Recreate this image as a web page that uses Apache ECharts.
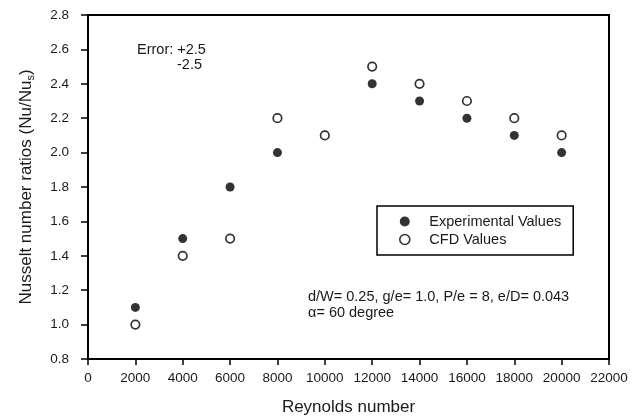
<!DOCTYPE html>
<html><head><meta charset="utf-8">
<script src="https://cdn.jsdelivr.net/npm/echarts@6/dist/echarts.min.js"></script>
<style>html,body{margin:0;padding:0;background:#fff}#c{width:638px;height:417px}</style>
</head><body><div id="c"></div>
<script>
const reynolds = [2000, 4000, 6000, 8000, 10000, 12000, 14000, 16000, 18000, 20000];
const experimental = [1.1, 1.5, 1.8, 2.0, null, 2.4, 2.3, 2.2, 2.1, 2.0];
const cfd = [1.0, 1.4, 1.5, 2.2, 2.1, 2.5, 2.4, 2.3, 2.2, 2.1];

const F = 'Liberation Sans, Arial, sans-serif';
const TXT = '#1a1a1a';
const chart = echarts.init(document.getElementById('c'));
const pair = (xs, ys) => xs.map((x, i) => [x, ys[i]]).filter(p => p[1] != null);
chart.setOption({
  animation: false,
  grid: {left: 88, top: 15, right: 29, bottom: 58, show: true, borderColor: '#000', borderWidth: 2,
         containLabel: false, outerBoundsMode: 'none'},
  xAxis: {
    type: 'value', min: 0, max: 22000, interval: 2000,
    name: 'Reynolds number', nameLocation: 'middle', nameGap: 40,
    nameTextStyle: {fontFamily: F, fontSize: 17, color: TXT},
    axisLine: {lineStyle: {color: '#000', width: 2}},
    axisTick: {show: true, inside: false, length: 6, lineStyle: {color: '#000', width: 1.5}},
    axisLabel: {fontFamily: F, fontSize: 13.5, color: TXT, margin: 12, formatter: v => String(v)},
    splitLine: {show: false}
  },
  yAxis: {
    type: 'value', min: 0.8, max: 2.8, interval: 0.2,
    name: '{n|Nusselt number ratios (Nu/Nu}{s|s}{n|)}', nameLocation: 'middle', nameGap: 52,
    nameTextStyle: {fontFamily: F, fontSize: 17, color: TXT,
      rich: {n: {fontFamily: F, fontSize: 17, color: TXT}, s: {fontFamily: F, fontSize: 11, color: TXT, verticalAlign: 'bottom', padding: [8, 0, 0, 0]}}},
    axisLine: {lineStyle: {color: '#000', width: 2}},
    axisTick: {show: true, inside: false, length: 7, lineStyle: {color: '#000', width: 1.5}},
    axisLabel: {fontFamily: F, fontSize: 13.5, color: TXT, margin: 19, formatter: v => v.toFixed(1)},
    splitLine: {show: false}
  },
  legend: {
    show: true, orient: 'vertical', left: 377, top: 206,
    padding: [8, 12, 8, 22], itemGap: 3, itemWidth: 11, itemHeight: 10,
    borderColor: '#000', borderWidth: 1.5,
    textStyle: {fontFamily: F, fontSize: 14.5, color: TXT, padding: [0, 0, 0, 14]},
    data: [
      {name: 'Experimental Values', icon: 'circle', itemStyle: {color: '#000', borderColor: '#000', borderWidth: 0}},
      {name: 'CFD Values', icon: 'circle', itemStyle: {color: '#fff', borderColor: '#000', borderWidth: 1.6}}
    ]
  },
  series: [
    {name: 'Experimental Values', type: 'scatter', symbol: 'circle', symbolSize: 9,
     itemStyle: {color: '#000'}, data: pair(reynolds, experimental), z: 3},
    {name: 'CFD Values', type: 'scatter', symbol: 'circle', symbolSize: 8.5,
     itemStyle: {color: '#fff', borderColor: '#000', borderWidth: 1.7}, data: pair(reynolds, cfd), z: 3}
  ],
  graphic: [
    {type: 'text', left: 137, top: 42, style: {text: 'Error: +2.5', font: '14.5px ' + F, fill: TXT}},
    {type: 'text', left: 177, top: 57, style: {text: '-2.5', font: '14.5px ' + F, fill: TXT}},
    {type: 'text', left: 308, top: 289, style: {text: 'd/W= 0.25, g/e= 1.0, P/e = 8, e/D= 0.043', font: '14.5px ' + F, fill: TXT}},
    {type: 'text', left: 308, top: 305, style: {text: 'α= 60 degree', font: '14.5px ' + F, fill: TXT}}
  ]
});
</script></body></html>
